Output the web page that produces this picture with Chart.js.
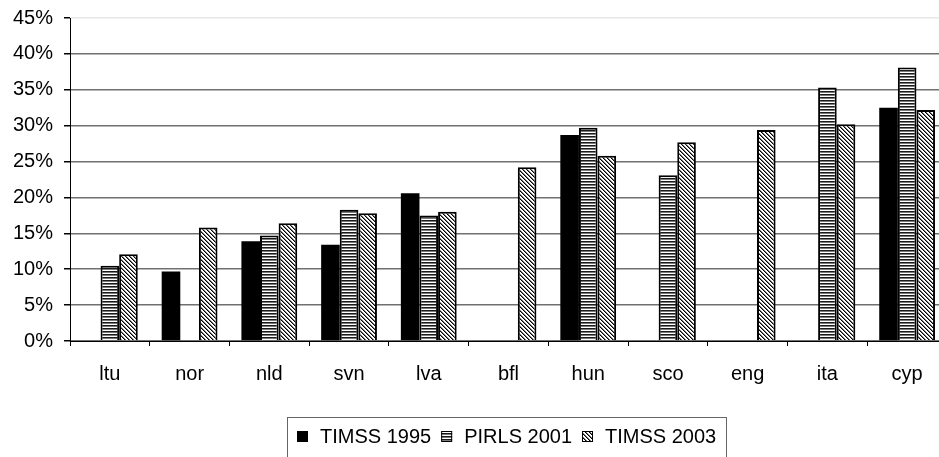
<!DOCTYPE html>
<html>
<head>
<meta charset="utf-8">
<script src="https://cdn.jsdelivr.net/npm/chart.js@4.4.1/dist/chart.umd.min.js"></script>
<style>
  html, body { margin: 0; padding: 0; background: #fff; overflow: hidden; }
  canvas { display: block; margin-top: -5px; }
</style>
</head>
<body>
<canvas id="chart" width="950" height="462" style="width:950px;height:462px"></canvas>
<script>
// categories and series (percent)
const countries = ['ltu', 'nor', 'nld', 'svn', 'lva', 'bfl', 'hun', 'sco', 'eng', 'ita', 'cyp'];
const timss1995 = [null, 9.7, 13.9, 13.4, 20.6, null, 28.7, null, null, null, 32.5];
const pirls2001 = [10.5, null, 14.7, 18.3, 17.5, null, 29.7, 23.1, null, 35.3, 38.1];
const timss2003 = [12.1, 15.8, 16.4, 17.8, 18.0, 24.2, 25.8, 27.7, 29.4, 30.2, 32.2];
const seriesNames = ['TIMSS 1995', 'PIRLS 2001', 'TIMSS 2003'];
const yTicks = [0, 5, 10, 15, 20, 25, 30, 35, 40, 45];

const FONT = "'Liberation Sans', Arial, sans-serif";

// fill patterns
function stripePattern() {
  const c = document.createElement('canvas');
  c.width = 4; c.height = 3;
  const g = c.getContext('2d');
  g.fillStyle = '#ffffff'; g.fillRect(0, 0, 4, 3);
  g.fillStyle = '#1a1a1a'; g.fillRect(0, 0, 4, 1);
  g.fillStyle = '#7a7a7a'; g.fillRect(0, 1, 4, 1);
  return g.createPattern(c, 'repeat');
}
function hatchPattern() {
  const c = document.createElement('canvas');
  c.width = 4; c.height = 4;
  const g = c.getContext('2d');
  g.fillStyle = '#ffffff'; g.fillRect(0, 0, 4, 4);
  for (let y = 0; y < 4; y++) {
    for (let x = 0; x < 4; x++) {
      const d = ((x - y) % 4 + 4) % 4;
      if (d === 0) { g.fillStyle = '#000'; g.fillRect(x, y, 1, 1); }
      if (d === 1) { g.fillStyle = '#777'; g.fillRect(x, y, 1, 1); }
    }
  }
  return g.createPattern(c, 'repeat');
}

const fills = ['#000000', stripePattern(), hatchPattern()];

// legend drawn in a box under the axis (canvas is shifted up by 5px)
const boxLegend = {
  id: 'boxLegend',
  afterDraw(chart) {
    const ctx = chart.ctx;
    ctx.save();
    ctx.font = '20px ' + FONT;
    const sw = 11, gapText = 12, gapItem = 10, pad = 10;
    const items = chart.data.datasets.map(d => ({ label: d.label, fill: d.backgroundColor, w: ctx.measureText(d.label).width }));
    let total = pad * 2;
    items.forEach((it, i) => { total += sw + gapText + it.w + (i < items.length - 1 ? gapItem : 0); });
    const cx = 507;
    const left = Math.round(cx - total / 2);
    const top = 422;
    ctx.strokeStyle = '#666';
    ctx.lineWidth = 1;
    ctx.strokeRect(left + 0.5, top + 0.5, Math.round(total), 60);
    const cy = 441;
    let x = left + pad;
    ctx.textBaseline = 'middle';
    items.forEach(it => {
      ctx.fillStyle = it.fill;
      ctx.fillRect(x, cy - 5, sw, sw);
      ctx.strokeStyle = '#000';
      ctx.strokeRect(x + 0.5, cy - 4.5, sw - 1, sw - 1);
      x += sw + gapText;
      ctx.fillStyle = '#000';
      ctx.fillText(it.label, x, cy + 1);
      x += it.w + gapItem;
    });
    ctx.restore();
  }
};

const data = {
  labels: countries,
  datasets: [timss1995, pirls2001, timss2003].map((vals, i) => ({
    label: seriesNames[i],
    data: vals,
    backgroundColor: fills[i],
    borderColor: '#000',
    borderWidth: i === 0 ? 0 : 2,
    categoryPercentage: 0.7,
    barPercentage: 1.0
  }))
};

new Chart(document.getElementById('chart'), {
  type: 'bar',
  data: data,
  options: {
    responsive: false,
    animation: false,
    layout: { padding: { top: 12, right: 3, bottom: 55, left: 0 } },
    plugins: {
      legend: { display: false },
      tooltip: { enabled: false }
    },
    scales: {
      x: {
        grid: {
          offset: true,
          drawOnChartArea: false,
          color: '#000',
          tickLength: 5
        },
        border: { color: '#000', width: 1 },
        ticks: {
          color: '#000',
          padding: 16,
          font: { family: FONT, size: 20 }
        }
      },
      y: {
        min: 0,
        max: 45,
        afterFit: function(scale) { scale.width = 70; },
        afterBuildTicks: function(scale) { scale.ticks = yTicks.map(v => ({ value: v })); },
        grid: {
          color: function(ctx) { return ctx.tick && ctx.tick.value === 45 ? '#e8e8e8' : '#707070'; },
          tickColor: '#000',
          tickLength: 6,
          lineWidth: 1.5
        },
        border: { color: '#000', width: 1 },
        ticks: {
          color: '#000',
          padding: 11,
          font: { family: FONT, size: 20 },
          callback: function(v) { return v + '%'; }
        }
      }
    }
  },
  plugins: [boxLegend]
});
</script>
</body>
</html>
